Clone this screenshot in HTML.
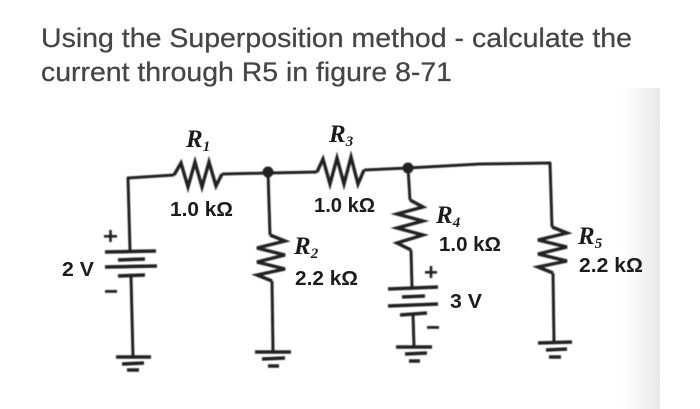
<!DOCTYPE html>
<html>
<head>
<meta charset="utf-8">
<style>
html,body{margin:0;padding:0;background:#fff;width:700px;height:409px;overflow:hidden}
svg{display:block}
.w{fill:none;stroke:#222;stroke-width:3;stroke-linejoin:round}
.z{fill:none;stroke:#222;stroke-width:3.4;stroke-linejoin:miter}
.p{stroke:#222;stroke-width:3.6;fill:none}
.t{font-family:"Liberation Sans",sans-serif;fill:#1f1f1f;font-size:20px;font-weight:bold}
.i{font-family:"Liberation Serif",serif;fill:#1f1f1f;font-size:25px;font-style:italic;font-weight:bold}
.s{font-size:15px}
.h{font-family:"Liberation Sans",sans-serif;fill:#444;font-size:27px;stroke:#444;stroke-width:.25}
</style>
</head>
<body>
<svg width="700" height="409" viewBox="0 0 700 409" xmlns="http://www.w3.org/2000/svg">
<defs>
<linearGradient id="g" x1="0" x2="1" y1="0" y2="0">
<stop offset="0" stop-color="#ffffff"/>
<stop offset="1" stop-color="#e9e9e9"/>
</linearGradient>
<filter id="b" x="0" y="0" width="700" height="409" filterUnits="userSpaceOnUse"><feGaussianBlur stdDeviation="0.5"/></filter>
<filter id="b2" x="0" y="0" width="700" height="409" filterUnits="userSpaceOnUse"><feGaussianBlur stdDeviation="0.35"/></filter>
</defs>
<rect x="622" y="88" width="38" height="321" fill="url(#g)"/>
<g filter="url(#b2)">
<text class="h" x="41" y="47" textLength="591" lengthAdjust="spacingAndGlyphs">Using the Superposition method - calculate the</text>
<text class="h" x="41" y="81" textLength="411" lengthAdjust="spacingAndGlyphs">current through R5 in figure 8-71</text>
</g>
<g filter="url(#b)">
<path class="w" d="M130 250 L128 178 L174 175"/>
<path class="z" d="M174 175 L181 163 L188 187 L195 162 L202 187 L209 162 L216 186 L222 174"/>
<path class="w" d="M222 174 L317 172"/>
<path class="z" d="M317 172 L323 159 L330 184 L337 158 L344 184 L351 157 L358 184 L364 170"/>
<path class="w" d="M364 170 L408 168 L480 164 L550 163 L552 227"/>
<circle cx="268" cy="172" r="5.5" fill="#222"/>
<circle cx="408" cy="168" r="5.5" fill="#222"/>
<path class="w" d="M268 172 L270 235"/>
<path class="z" d="M270 235 L285 241 L257 248 L285 255 L257 262 L285 269 L257 275 L272 281"/>
<path class="w" d="M272 281 L273 352"/>
<path class="w" d="M408 168 L410 200"/>
<path class="z" d="M410 200 L423 207 L397 214 L423 221 L397 228 L423 235 L397 243 L411 250"/>
<path class="w" d="M411 250 L412 288"/>
<path class="z" d="M552 227 L567 233 L538 240 L567 247 L538 254 L567 261 L538 267 L553 273"/>
<path class="w" d="M553 273 L554 342"/>
<path class="p" d="M105 252 L156 251 M118 260 L145 259 M105 267 L157 266 M118 276 L145 275"/>
<path class="w" d="M131 276 L133 357"/>
<path class="p" d="M388 289 L438 287 M402 297 L425 296 M388 306 L438 304 M400 315 L427 313"/>
<path class="w" d="M413 314 L414 347"/>
<path class="w" d="M411 288 L412 289"/>
<path class="p" d="M116 357 L151 357 M122 364 L144 363 M127 370 L139 370"/>
<path class="p" d="M255 352 L291 352 M262 359 L285 358 M268 366 L279 366"/>
<path class="p" d="M396 347 L432 347 M405 354 L427 353 M409 361 L420 361"/>
<path class="p" d="M538 343 L572 342 M546 350 L567 349 M549 357 L561 357"/>
<rect x="104" y="235" width="13" height="2.600" fill="#222"/>
<rect x="109.200" y="230" width="2.600" height="12" fill="#222"/>
<rect x="105" y="290" width="12" height="2.800" fill="#222"/>
<rect x="425" y="271" width="12" height="2.600" fill="#222"/>
<rect x="429.700" y="266" width="2.600" height="12" fill="#222"/>
<rect x="427" y="326" width="12" height="2.800" fill="#222"/>
</g>
<g filter="url(#b2)">
<text class="i" x="186" y="147">R<tspan class="s" dy="4">1</tspan></text>
<text class="i" x="329" y="142">R<tspan class="s" dy="4">3</tspan></text>
<text class="i" x="294" y="254">R<tspan class="s" dy="4">2</tspan></text>
<text class="i" x="436" y="223">R<tspan class="s" dy="4">4</tspan></text>
<text class="i" x="578" y="244">R<tspan class="s" dy="4">5</tspan></text>
<text class="t" x="170" y="216" textLength="63" lengthAdjust="spacingAndGlyphs">1.0 kΩ</text>
<text class="t" x="314" y="212" textLength="61" lengthAdjust="spacingAndGlyphs">1.0 kΩ</text>
<text class="t" x="295" y="285" textLength="63" lengthAdjust="spacingAndGlyphs">2.2 kΩ</text>
<text class="t" x="439" y="251" textLength="62" lengthAdjust="spacingAndGlyphs">1.0 kΩ</text>
<text class="t" x="579" y="272" textLength="64" lengthAdjust="spacingAndGlyphs">2.2 kΩ</text>
<text class="t" x="62" y="276" textLength="32" lengthAdjust="spacingAndGlyphs">2 V</text>
<text class="t" x="450" y="308" textLength="32" lengthAdjust="spacingAndGlyphs">3 V</text>
</g>
</svg>
</body>
</html>
